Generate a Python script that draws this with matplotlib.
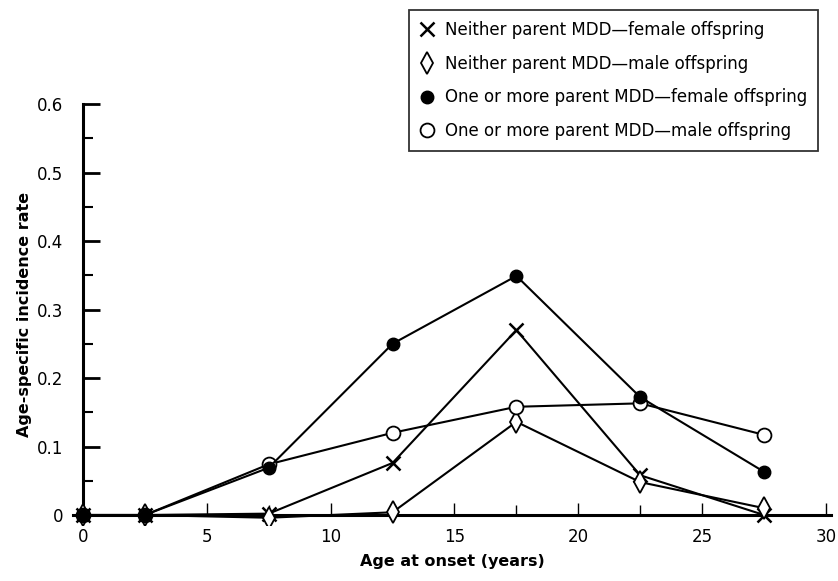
import matplotlib.pyplot as plt
from matplotlib.ticker import MultipleLocator

# age group midpoints (years)
ages = [0, 2.5, 7.5, 12.5, 17.5, 22.5, 27.5]

neither_female = [0, 0, 0.002, 0.076, 0.270, 0.058, 0.0]
neither_male = [0, 0, -0.004, 0.004, 0.136, 0.048, 0.010]
parent_female = [0, 0, 0.069, 0.250, 0.349, 0.172, 0.063]
parent_male = [0, 0, 0.074, 0.120, 0.158, 0.163, 0.117]

labels = [
    "Neither parent MDD\u2014female offspring",
    "Neither parent MDD\u2014male offspring",
    "One or more parent MDD\u2014female offspring",
    "One or more parent MDD\u2014male offspring",
]

fig = plt.figure(figsize=(8.38, 5.81), dpi=100)
ax = fig.add_axes([0.0872, 0.0959, 0.9044, 0.7251])

ax.plot(ages, neither_female, color="black", lw=1.5, marker="x", ms=10, mew=1.8,
        label=labels[0], zorder=3)
ax.plot(ages, neither_male, color="black", lw=1.5, marker="d", ms=11, mew=1.3,
        mfc="white", label=labels[1], zorder=3)
ax.plot(ages, parent_female, color="black", lw=1.5, marker="o", ms=9,
        mfc="black", label=labels[2], zorder=5)
ax.plot(ages, parent_male, color="black", lw=1.5, marker="o", ms=10, mew=1.3,
        mfc="white", label=labels[3], zorder=4)

ax.set_xlim(-0.4, 30.2)
ax.set_ylim(-0.015, 0.6)

for s in ["top", "right"]:
    ax.spines[s].set_visible(False)
ax.spines["left"].set_position(("data", 0))
ax.spines["bottom"].set_position(("data", 0))
ax.spines["left"].set_bounds(-0.01, 0.6)
ax.spines["left"].set_linewidth(2.2)
ax.spines["bottom"].set_linewidth(2.2)

ax.xaxis.set_major_locator(MultipleLocator(5))
ax.xaxis.set_minor_locator(MultipleLocator(2.5))
ax.yaxis.set_minor_locator(MultipleLocator(0.05))
ax.set_yticks([0, 0.1, 0.2, 0.3, 0.4, 0.5, 0.6])
ax.set_yticklabels(["0", "0.1", "0.2", "0.3", "0.4", "0.5", "0.6"])

ax.tick_params(axis="y", which="major", direction="in", length=12, width=2,
               labelsize=12, pad=14)
ax.tick_params(axis="y", which="minor", direction="in", length=7, width=1.5)
ax.tick_params(axis="x", which="major", direction="in", length=9, width=1,
               labelsize=12, pad=9)
ax.tick_params(axis="x", which="minor", direction="in", length=7, width=1)

ax.set_xlabel("Age at onset (years)", fontsize=11.5, fontweight="bold", labelpad=6)
ax.set_ylabel("Age-specific incidence rate", fontsize=11.5, fontweight="bold",
              labelpad=4)

leg = ax.legend(loc="upper right", bbox_to_anchor=(818 / 838, 571 / 581),
                bbox_transform=fig.transFigure, fontsize=12, frameon=True,
                fancybox=False, edgecolor="black", handlelength=0.9,
                handletextpad=0.6, labelspacing=0.95, borderpad=0.65,
                borderaxespad=0)
leg.get_frame().set_linewidth(1.3)
for h in leg.legend_handles:
    h.set_linestyle("none")

fig.savefig("out.png", dpi=100)
